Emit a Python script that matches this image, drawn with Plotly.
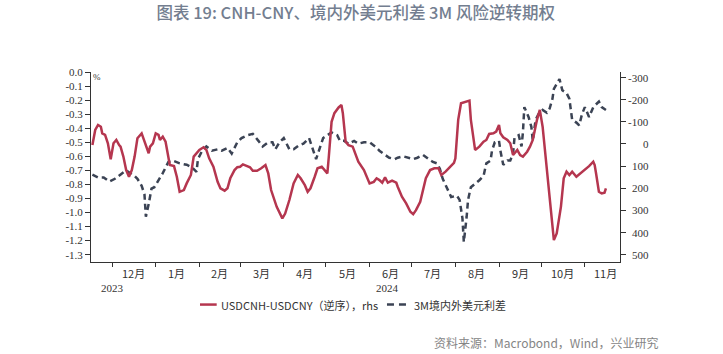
import plotly.graph_objects as go

# ---------------- data ----------------
red_dates = ["2023-11-17","2023-11-19","2023-11-21","2023-11-23","2023-11-24","2023-11-26","2023-11-28","2023-11-30",
"2023-12-02","2023-12-04","2023-12-06","2023-12-07","2023-12-09","2023-12-11","2023-12-13","2023-12-15","2023-12-17",
"2023-12-19","2023-12-22","2023-12-24","2023-12-27","2023-12-28","2023-12-30",
"2024-01-01","2024-01-03","2024-01-04","2024-01-06","2024-01-08","2024-01-10","2024-01-11","2024-01-14","2024-01-16",
"2024-01-18","2024-01-21","2024-01-23","2024-01-26","2024-01-28","2024-01-30",
"2024-02-01","2024-02-04","2024-02-06","2024-02-08","2024-02-11","2024-02-14","2024-02-16","2024-02-19","2024-02-21",
"2024-02-23","2024-02-26","2024-02-28",
"2024-03-01","2024-03-03","2024-03-06","2024-03-08","2024-03-10","2024-03-13","2024-03-16","2024-03-19","2024-03-21",
"2024-03-23","2024-03-27","2024-03-31",
"2024-04-02","2024-04-05","2024-04-08","2024-04-11","2024-04-13","2024-04-16","2024-04-18","2024-04-20","2024-04-23",
"2024-04-25","2024-04-28","2024-04-30",
"2024-05-02","2024-05-03","2024-05-05","2024-05-07","2024-05-10","2024-05-12","2024-05-13","2024-05-15","2024-05-17",
"2024-05-20","2024-05-22","2024-05-24","2024-05-28","2024-05-30",
"2024-06-01","2024-06-04","2024-06-06","2024-06-08","2024-06-10","2024-06-12","2024-06-14","2024-06-17","2024-06-20",
"2024-06-21","2024-06-24","2024-06-27","2024-06-30",
"2024-07-02","2024-07-04","2024-07-07","2024-07-09","2024-07-11","2024-07-14","2024-07-17","2024-07-20","2024-07-22",
"2024-07-25","2024-07-28","2024-07-31",
"2024-08-01","2024-08-03","2024-08-05","2024-08-09","2024-08-11","2024-08-12","2024-08-15","2024-08-18","2024-08-21",
"2024-08-23","2024-08-25","2024-08-28","2024-08-30",
"2024-09-01","2024-09-02","2024-09-04","2024-09-07","2024-09-09","2024-09-11","2024-09-14","2024-09-16","2024-09-18",
"2024-09-21","2024-09-23","2024-09-25","2024-09-28","2024-09-30",
"2024-10-02","2024-10-05","2024-10-08","2024-10-10","2024-10-12","2024-10-15","2024-10-17","2024-10-19","2024-10-21",
"2024-10-23","2024-10-26","2024-10-29",
"2024-11-01","2024-11-04","2024-11-07","2024-11-08","2024-11-09","2024-11-11","2024-11-13","2024-11-15","2024-11-16"]
red_vals = [5,-63,-86,-78,-48,-41,-3,69,
-3,-18,5,12,57,118,148,118,57,
-26,-48,-10,42,12,-3,
-48,-41,-18,-33,-10,57,95,100,148,
216,208,178,140,57,42,
27,15,27,65,103,171,200,211,200,
155,118,105,
103,92,100,105,121,121,110,95,133,
208,284,336,
314,253,178,140,155,186,216,200,148,
110,103,118,
133,60,-100,-139,-165,-176,-139,-10,5,
12,50,80,118,148,
178,171,155,163,175,151,175,166,175,
193,238,268,306,
317,299,261,208,155,118,110,110,140,
125,103,85,
65,-109,-184,-191,-196,-109,27,12,-10,
-18,-45,-48,-56,
-86,-48,-30,-18,-3,50,27,50,57,
35,12,-18,-109,-154,
-78,118,299,434,404,284,155,125,140,
125,148,133,
118,100,80,95,133,216,223,220,200]

dash_dates = ["2023-11-17","2023-11-21","2023-11-25","2023-11-29","2023-12-03","2023-12-08","2023-12-11","2023-12-14",
"2023-12-17","2023-12-19","2023-12-22","2023-12-24","2023-12-25","2023-12-27","2023-12-29","2023-12-31",
"2024-01-03","2024-01-06","2024-01-10","2024-01-13","2024-01-18","2024-01-23","2024-01-27","2024-01-30","2024-01-31",
"2024-02-03","2024-02-06","2024-02-10","2024-02-14","2024-02-17","2024-02-21","2024-02-24","2024-02-28",
"2024-03-02","2024-03-06","2024-03-10","2024-03-14","2024-03-17","2024-03-21","2024-03-24","2024-03-26","2024-03-29",
"2024-04-01","2024-04-05","2024-04-08","2024-04-12","2024-04-15","2024-04-19","2024-04-21","2024-04-24","2024-04-26",
"2024-04-29","2024-05-02","2024-05-05","2024-05-09","2024-05-11","2024-05-14","2024-05-17","2024-05-21","2024-05-24",
"2024-05-28","2024-06-01","2024-06-05","2024-06-08","2024-06-12","2024-06-15","2024-06-19","2024-06-21","2024-06-25",
"2024-06-28","2024-07-02","2024-07-05","2024-07-09","2024-07-13","2024-07-16","2024-07-19","2024-07-21","2024-07-23",
"2024-07-26","2024-07-29","2024-08-02","2024-08-04","2024-08-06","2024-08-07","2024-08-09","2024-08-10","2024-08-12",
"2024-08-16","2024-08-18","2024-08-21","2024-08-23","2024-08-26","2024-08-27","2024-08-29","2024-09-01","2024-09-02",
"2024-09-04","2024-09-07","2024-09-09","2024-09-11","2024-09-12","2024-09-15","2024-09-17","2024-09-18","2024-09-19",
"2024-09-22","2024-09-24","2024-09-25","2024-09-27","2024-09-29","2024-10-02","2024-10-05","2024-10-07","2024-10-09",
"2024-10-10","2024-10-14","2024-10-16","2024-10-19","2024-10-21","2024-10-23","2024-10-26","2024-10-28","2024-10-30",
"2024-11-01","2024-11-04","2024-11-07","2024-11-11","2024-11-13","2024-11-16"]
dash_vals = [-0.73,-0.75,-0.75,-0.78,-0.76,-0.72,-0.70,-0.72,
-0.74,-0.76,-0.81,-0.87,-1.03,-0.94,-0.83,-0.82,
-0.77,-0.72,-0.64,-0.63,-0.65,-0.66,-0.68,-0.71,-0.62,
-0.56,-0.53,-0.56,-0.55,-0.56,-0.54,-0.58,-0.50,
-0.47,-0.45,-0.44,-0.49,-0.53,-0.50,-0.50,-0.55,-0.50,
-0.47,-0.55,-0.55,-0.52,-0.51,-0.47,-0.53,-0.62,-0.56,
-0.47,-0.45,-0.43,-0.45,-0.49,-0.49,-0.51,-0.49,-0.51,
-0.50,-0.50,-0.53,-0.56,-0.59,-0.61,-0.62,-0.61,-0.60,
-0.61,-0.62,-0.61,-0.59,-0.62,-0.64,-0.65,-0.69,-0.76,
-0.83,-0.89,-0.88,-0.91,-1.04,-1.21,-1.03,-0.91,-0.82,
-0.79,-0.77,-0.74,-0.65,-0.63,-0.56,-0.50,-0.49,-0.56,
-0.66,-0.63,-0.63,-0.58,-0.47,-0.45,-0.53,-0.43,-0.25,
-0.32,-0.39,-0.49,-0.34,-0.30,-0.27,-0.29,-0.26,-0.19,
-0.12,-0.05,-0.13,-0.15,-0.19,-0.34,-0.36,-0.38,-0.30,
-0.25,-0.32,-0.25,-0.21,-0.25,-0.27]

month_starts = ["2023-12-01","2024-01-01","2024-02-01","2024-03-01","2024-04-01","2024-05-01","2024-06-01",
                "2024-07-01","2024-08-01","2024-09-01","2024-10-01","2024-11-01"]
month_mids = ["2023-12-16","2024-01-16","2024-02-15","2024-03-16","2024-04-16","2024-05-16","2024-06-16",
              "2024-07-16","2024-08-16","2024-09-16","2024-10-16","2024-11-16"]
month_labels = ["12月","1月","2月","3月","4月","5月","6月","7月","8月","9月","10月","11月"]
year_pos = ["2023-12-01","2024-06-14"]
year_labels = ["2023","2024"]

left_ticks = [0.0,-0.1,-0.2,-0.3,-0.4,-0.5,-0.6,-0.7,-0.8,-0.9,-1.0,-1.1,-1.2,-1.3]
left_ticktext = [f"{v:.1f}" for v in left_ticks]
right_ticks = [-300,-200,-100,0,100,200,300,400,500]
right_ticktext = [str(v) for v in right_ticks]

name_red = "USDCNH-USDCNY（逆序），rhs"
name_dash = "3M境内外美元利差"

RED = "#b5364f"
DASH = "#3b4354"
AX = "#333333"
SERIF = "Liberation Serif"
CJK = "Noto Sans CJK SC"

fig = go.Figure()
fig.add_trace(go.Scatter(x=red_dates, y=red_vals, name=name_red, mode="lines",
                         line=dict(color=RED, width=2.5), yaxis="y2", showlegend=False))
fig.add_trace(go.Scatter(x=dash_dates, y=dash_vals, name=name_dash, mode="lines",
                         line=dict(color=DASH, width=2.5, dash="6px,4px"), yaxis="y", showlegend=False))

annotations = []
for d, t in zip(month_mids, month_labels):
    annotations.append(dict(x=d, y=-0.06, xref="x", yref="paper", text=t, showarrow=False,
                            font=dict(family=CJK, size=11, color=AX), xanchor="center", yanchor="middle"))
for d, t in zip(year_pos, year_labels):
    annotations.append(dict(x=d, y=-0.135, xref="x", yref="paper", text=t, showarrow=False,
                            font=dict(family=SERIF, size=11, color=AX), xanchor="center", yanchor="middle"))
for v, t in zip(right_ticks, right_ticktext):
    annotations.append(dict(x=1.0586, y=v, xref="paper", yref="y2", text=t, showarrow=False,
                            font=dict(family=SERIF, size=11, color=AX), xanchor="right", yanchor="middle"))
annotations.append(dict(x=0.011, y=0.972, xref="paper", yref="paper", text="%", showarrow=False,
                        font=dict(family=SERIF, size=9, color=AX), xanchor="center", yanchor="middle"))
annotations.append(dict(x=1.0756, y=-0.4226, xref="paper", yref="paper",
                        text="资料来源：Macrobond，Wind，兴业研究", showarrow=False,
                        font=dict(family=CJK, size=12, color="#858585"), xanchor="right", yanchor="middle"))

# custom legend (short samples like the reference)
LEG_Y = -0.224
annotations.append(dict(x=0.242, y=LEG_Y, xref="paper", yref="paper", text=name_red, showarrow=False,
                        font=dict(family=CJK, size=11, color=AX), xanchor="left", yanchor="middle"))
annotations.append(dict(x=0.6068, y=LEG_Y, xref="paper", yref="paper", text=name_dash, showarrow=False,
                        font=dict(family=CJK, size=11, color=AX), xanchor="left", yanchor="middle"))
shapes = [
    dict(type="line", xref="paper", yref="paper", x0=0.206, x1=0.2376, y0=LEG_Y, y1=LEG_Y,
         line=dict(color=RED, width=2.5)),
    dict(type="line", xref="paper", yref="paper", x0=0.5595, x1=0.603, y0=LEG_Y, y1=LEG_Y,
         line=dict(color=DASH, width=2.5, dash="7px,5px")),
]

fig.update_layout(
    width=723, height=354,
    margin=dict(l=91, r=103, t=72, b=92),
    paper_bgcolor="white", plot_bgcolor="white",
    title=dict(text="图表 19: CNH-CNY、境内外美元利差 3M 风险逆转期权",
               x=0.492, xref="container", xanchor="center", y=0.962, yref="container", yanchor="middle",
               font=dict(family=CJK, size=16.5, color="#737e90", weight=500)),
    xaxis=dict(type="date", range=["2023-11-16", "2024-11-26"], tickvals=month_starts,
               showticklabels=False, ticks="outside", ticklen=4, tickcolor=AX,
               showline=True, linecolor=AX, linewidth=1, showgrid=False, zeroline=False),
    yaxis=dict(range=[-1.352, 0], tickvals=left_ticks, ticktext=left_ticktext,
               ticks="outside", ticklen=5, tickcolor=AX, showline=True, linecolor=AX, linewidth=1,
               showgrid=False, zeroline=False, tickfont=dict(family=SERIF, size=11, color=AX)),
    yaxis2=dict(overlaying="y", side="right", range=[533, -325], tickvals=right_ticks,
                showticklabels=False, ticks="outside", ticklen=5, tickcolor=AX,
                showline=True, linecolor=AX, linewidth=1, showgrid=False, zeroline=False),
    annotations=annotations,
    shapes=shapes,
    showlegend=False,
)

fig.write_html("out.html")
